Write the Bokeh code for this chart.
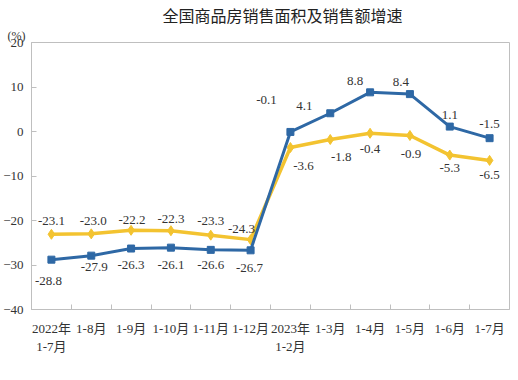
from bokeh.plotting import figure
from bokeh.models import (ColumnDataSource, FixedTicker, LabelSet, Title, Legend, LegendItem,
                          Range1d, LinearAxis)
from bokeh.core.properties import value
from bokeh.embed import file_html
from bokeh.resources import INLINE

# ---- data ----
categories = ["2022年\n1-7月", "1-8月", "1-9月", "1-10月", "1-11月", "1-12月",
              "2023年\n1-2月", "1-3月", "1-4月", "1-5月", "1-6月", "1-7月"]
area_growth = [-23.1, -23.0, -22.2, -22.3, -23.3, -24.3, -3.6, -1.8, -0.4, -0.9, -5.3, -6.5]
sales_growth = [-28.8, -27.9, -26.3, -26.1, -26.6, -26.7, -0.1, 4.1, 8.8, 8.4, 1.1, -1.5]
y_ticks = [20, 10, 0, -10, -20, -30, -40]
title_text = "全国商品房销售面积及销售额增速"
unit_text = "(%)"
area_name = "商品房销售面积"
sales_name = "商品房销售额"

# ---- label offsets (layout, px) ----
area_dx = [0, 2, 1, 0, 0, -9, 13, 11, 0, 1, 0, 0]
area_dy = [13, 13, 10, 12, 14, 11, -18, -17, -16, -18, -13, -15]
sales_dx = [-3, 3, 0, 0, 0, -1, -24, -26, -15, -9, 0, 0]
sales_dy = [-21, -11, -16, -17, -15, -18, 32, 7, 11, 12, 12, 14]

YELLOW = "#F3C330"
BLUE = "#2E68A5"
GREY = "#BFBFBF"
SERIF = "Liberation Serif, Noto Sans CJK SC"

n = len(categories)
xs = [i + 0.5 for i in range(n)]
first_lines = {x: c.split("\n")[0] for x, c in zip(xs, categories)}
second_lines = {x: c.split("\n")[1] for x, c in zip(xs, categories) if "\n" in c}

src = ColumnDataSource(dict(
    x=xs, area=area_growth, sales=sales_growth,
    area_lbl=[f"{v:.1f}" for v in area_growth],
    sales_lbl=[f"{v:.1f}" for v in sales_growth],
    adx=area_dx, ady=area_dy, sdx=sales_dx, sdy=sales_dy,
))

p = figure(frame_width=478, frame_height=267, output_backend="svg", toolbar_location=None,
           x_range=Range1d(0, n), y_range=Range1d(-40, 20),
           min_border_left=23, min_border_right=9, min_border_top=0, min_border_bottom=0)

# unit label, in the panel just above the frame
unit = Title(text=unit_text, align="left", offset=-24, standoff=0,
             text_font=SERIF, text_font_size="12px", text_font_style="normal",
             text_color="#333333")
p.add_layout(unit, "above")

p.title.text = title_text
p.title.align = "left"
p.title.text_font = "Noto Sans CJK SC"
p.title.text_font_size = "16px"
p.title.text_font_style = "normal"
p.title.text_color = "#222222"
p.title.offset = 131
p.title.standoff = 0

p.xgrid.visible = False
p.ygrid.visible = False
p.outline_line_color = GREY
p.background_fill_color = "white"
p.border_fill_color = "white"

# y axis
p.yaxis.axis_label = None
p.yaxis.ticker = FixedTicker(ticks=y_ticks)
p.yaxis.axis_line_color = GREY
p.yaxis.major_tick_line_color = GREY
p.yaxis.major_tick_in = 5
p.yaxis.major_tick_out = 0
p.yaxis.minor_tick_line_color = None
p.yaxis.major_label_text_font = SERIF
p.yaxis.major_label_text_font_size = "13px"
p.yaxis.major_label_text_color = "#333333"
p.yaxis.major_label_standoff = 8

# x axis: first line of each category
p.xaxis.axis_label = None
p.xaxis.ticker = FixedTicker(ticks=xs, minor_ticks=list(range(1, n)))
p.xaxis.major_label_overrides = first_lines
p.xaxis.axis_line_color = GREY
p.xaxis.major_tick_line_color = None
p.xaxis.minor_tick_line_color = GREY
p.xaxis.minor_tick_in = 5
p.xaxis.minor_tick_out = 0
p.xaxis.major_label_text_font = SERIF
p.xaxis.major_label_text_font_size = "13px"
p.xaxis.major_label_text_color = "#333333"
p.xaxis.major_label_standoff = 5

# second line of the two-line categories
x2 = LinearAxis(ticker=FixedTicker(ticks=list(second_lines.keys())),
                major_label_overrides=second_lines, axis_label=None,
                axis_line_color=None, major_tick_line_color=None, minor_tick_line_color=None,
                major_tick_in=0, major_tick_out=0, major_label_standoff=0,
                major_label_text_font=SERIF, major_label_text_font_size="13px",
                major_label_text_color="#333333")
p.add_layout(x2, "below")

# lines
la = p.line("x", "area", source=src, line_color=YELLOW, line_width=3.5)
ma = p.scatter("x", "area", source=src, marker="diamond", size=10, fill_color=YELLOW, line_color=YELLOW)
ls = p.line("x", "sales", source=src, line_color=BLUE, line_width=3)
ms = p.scatter("x", "sales", source=src, marker="square", size=7, fill_color=BLUE, line_color=BLUE)

lbl_common = dict(text_font=value("Liberation Serif"), text_font_size="13px",
                  text_color="#333333", text_align="center", text_baseline="middle")
p.add_layout(LabelSet(x="x", y="area", text="area_lbl", x_offset="adx", y_offset="ady",
                      source=src, **lbl_common))
p.add_layout(LabelSet(x="x", y="sales", text="sales_lbl", x_offset="sdx", y_offset="sdy",
                      source=src, **lbl_common))

legend = Legend(items=[LegendItem(label=area_name, renderers=[la, ma]),
                       LegendItem(label=sales_name, renderers=[ls, ms])],
                orientation="horizontal", location="top_center", border_line_color=None,
                background_fill_alpha=0,
                label_text_font="Noto Sans CJK SC", label_text_font_size="11px",
                label_text_line_height=1.0,
                label_text_color="#555555", glyph_width=28, glyph_height=12,
                label_height=12, spacing=56, margin=3, padding=0)
p.add_layout(legend, "below")

open("out.html", "w").write(file_html(p, INLINE))
